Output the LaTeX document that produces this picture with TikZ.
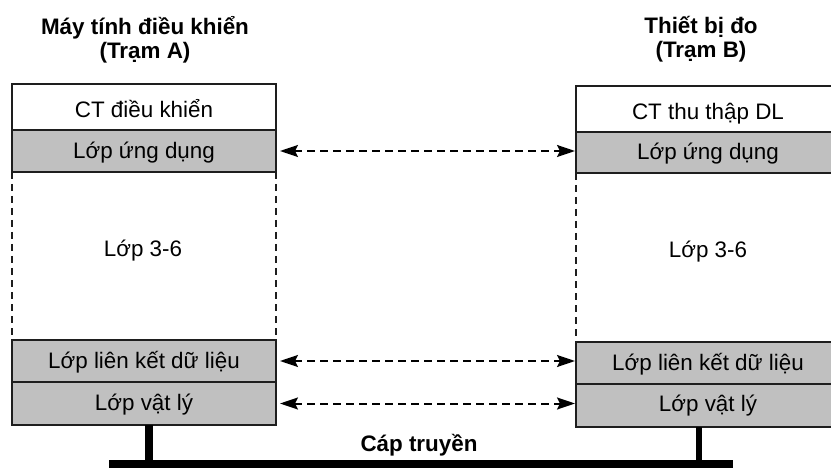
\documentclass[tikz,border=0pt]{standalone}
\usepackage{fontspec}
\setmainfont{Liberation Sans}
\usetikzlibrary{arrows.meta}
\definecolor{layergray}{RGB}{192,192,192}
\definecolor{edge}{RGB}{30,30,30}
\begin{document}
\begin{tikzpicture}[x=1pt,y=-1pt,
  every node/.style={font=\fontsize{22.4}{23.3}\selectfont, inner sep=0pt, outer sep=0pt},
  layer/.style={draw=edge, line width=1.3pt, minimum width=264pt, anchor=north west,
                text height=23pt, text depth=8pt},
  toplayer/.style={layer, fill=white, text height=27pt, text depth=6pt},
  graylayer/.style={layer, fill=layergray},
  sidedash/.style={draw=edge, line width=1.8pt, dash pattern=on 7pt off 5pt},
  peer/.style={line width=2pt, dash pattern=on 8pt off 5pt,
               {Stealth[length=18pt,width=12pt,inset=3pt]}-{Stealth[length=18pt,width=12pt,inset=3pt]},
               shorten <=4pt, shorten >=1pt},
  header/.style={font=\fontsize{22.4}{24.5}\selectfont\bfseries, align=center, anchor=north},
  drop/.style={line width=7pt, draw=black}
]
\useasboundingbox (0,0) rectangle (831,468);

% headers
\node[header] (hA) at (145,16) {Máy tính điều khiển\\(Trạm A)};
\node[header] (hB) at (701,16) {Thiết bị đo\\(Trạm B)};

% station A
\node[toplayer,  minimum height=46pt] (ctA)   at (12,84)  {CT điều khiển};
\node[graylayer, minimum height=42pt] (appA)  at (12,130) {Lớp ứng dụng};
\node[graylayer, minimum height=42pt] (linkA) at (12,340) {Lớp liên kết dữ liệu};
\node[graylayer, minimum height=43pt, text height=23pt, text depth=9pt] (phyA) at (12,382) {Lớp vật lý};
\draw[sidedash] (appA.south west) -- (linkA.north west);
\draw[sidedash] (appA.south east) -- (linkA.north east);
\node[anchor=base] (midA) at (143,257) {Lớp 3-6};

% station B
\node[toplayer,  minimum height=46pt] (ctB)   at (576,86)  {CT thu thập DL};
\node[graylayer, minimum height=41pt] (appB)  at (576,132) {Lớp ứng dụng};
\node[graylayer, minimum height=42pt] (linkB) at (576,342) {Lớp liên kết dữ liệu};
\node[graylayer, minimum height=43pt, text height=23pt, text depth=11pt] (phyB) at (576,384) {Lớp vật lý};
\draw[sidedash] (appB.south west) -- (linkB.north west);
\draw[sidedash] (appB.south east) -- (linkB.north east);
\node[anchor=base] (midB) at (708,258) {Lớp 3-6};

% peer-to-peer arrows
\draw[peer] (appA.east)  -- (appA.east -| appB.west);
\draw[peer] (linkA.east) -- (linkA.east -| linkB.west);
\draw[peer] (phyA.east)  -- (phyA.east -| phyB.west);

% cable
\node[fill=black, minimum width=624pt, minimum height=10pt, anchor=north west] (bus) at (109,460) {};
\draw[drop, line width=7.5pt] ([xshift=5pt]phyA.south) -- ([xshift=5pt]phyA.south |- bus.north);
\draw[drop, line width=6.5pt] ([xshift=-9pt]phyB.south) -- ([xshift=-9pt]phyB.south |- bus.north);
\node[anchor=base, font=\fontsize{22.4}{23.3}\selectfont\bfseries] (cable) at (419,451) {Cáp truyền};
\end{tikzpicture}
\end{document}
